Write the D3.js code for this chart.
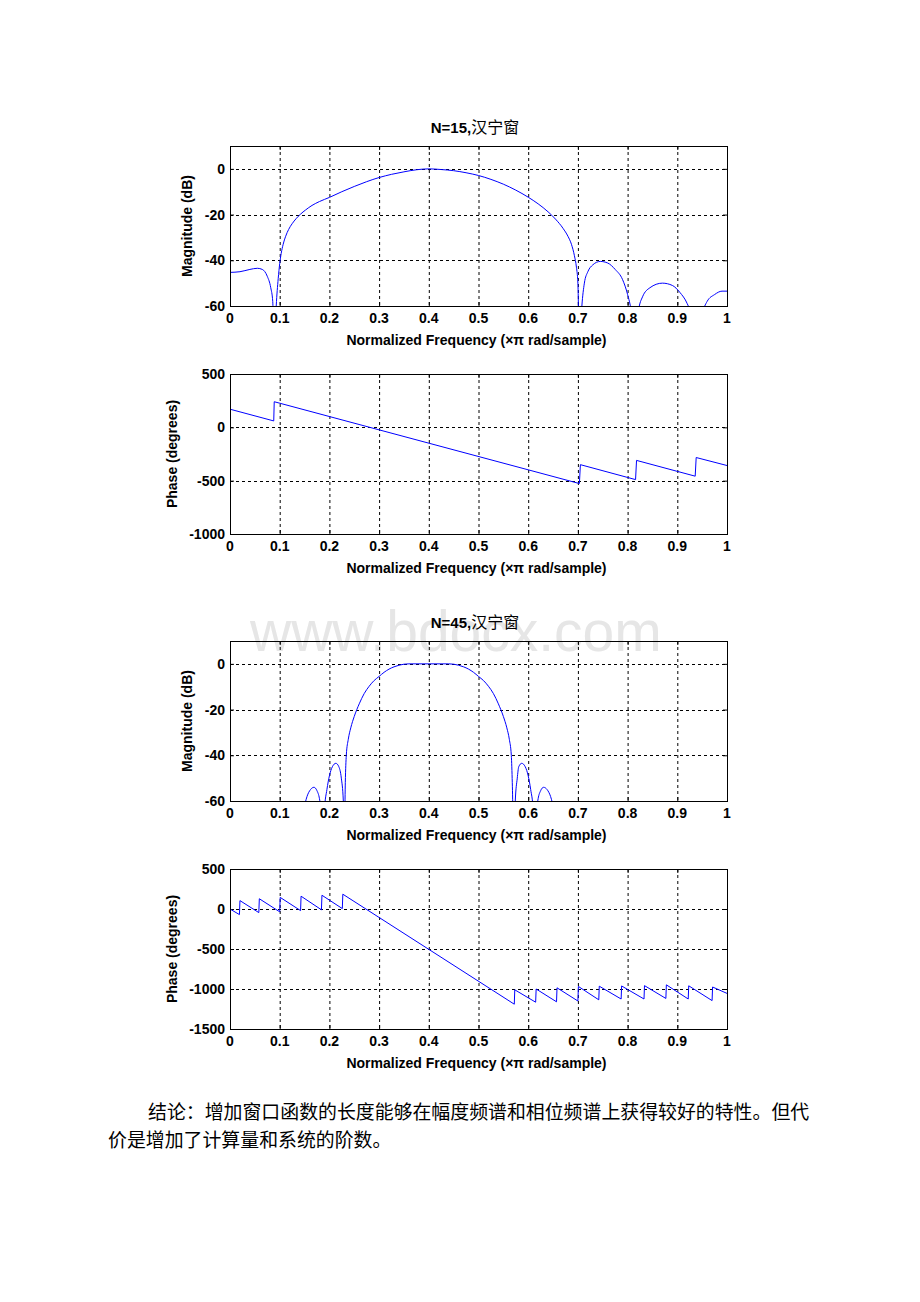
<!DOCTYPE html>
<html>
<head>
<meta charset="utf-8">
<script src="https://cdn.jsdelivr.net/npm/d3@7"></script>
<style>
  html, body { margin: 0; padding: 0; background: #fff; }
  svg { display: block; }
</style>
</head>
<body>
<svg id="chart"></svg>
<script>
// x axis ticks (normalized frequency)
const freqTicks = [0, 0.1, 0.2, 0.3, 0.4, 0.5, 0.6, 0.7, 0.8, 0.9, 1];
const freqTickLabels = ["0", "0.1", "0.2", "0.3", "0.4", "0.5", "0.6", "0.7", "0.8", "0.9", "1"];

// y axis ticks
const magTicks = [-60, -40, -20, 0];
const phase15Ticks = [-1000, -500, 0, 500];
const phase45Ticks = [-1500, -1000, -500, 0, 500];

const titles = ["N=15,", "N=45,"];
const windowName = "汉宁窗";

// N=15 magnitude [freq, dB]
const mag15 = [
  [0, -45.3], [0.02, -45.0], [0.04, -44], [0.055, -43.5], [0.065, -44], [0.075, -47],
  [0.082, -52], [0.086, -58], [0.089, -80], [0.093, -60], [0.097, -48], [0.1, -41.5],
  [0.103, -37], [0.107, -33], [0.112, -29.5], [0.118, -26.5], [0.125, -24], [0.133, -21.8],
  [0.142, -19.8], [0.152, -18], [0.165, -16], [0.18, -14.3], [0.2, -12.5], [0.225, -10],
  [0.25, -7.7], [0.275, -5.6], [0.3, -3.8], [0.325, -2.4], [0.35, -1.3], [0.375, -0.4],
  [0.4, 0], [0.425, -0.3], [0.45, -0.8], [0.475, -1.7], [0.5, -2.9], [0.525, -4.6],
  [0.55, -6.7], [0.575, -9.3], [0.6, -12.4], [0.62, -15.3], [0.64, -18.8], [0.655, -22],
  [0.67, -26], [0.68, -29.5], [0.687, -33], [0.693, -38], [0.697, -43], [0.7, -50],
  [0.703, -80], [0.708, -60], [0.713, -50], [0.72, -45], [0.73, -42],
  [0.745, -40.5], [0.76, -41.2], [0.775, -44], [0.79, -48.5], [0.8, -55], [0.807, -62],
  [0.815, -80], [0.822, -62], [0.83, -56], [0.845, -52], [0.87, -50], [0.89, -51],
  [0.905, -54], [0.92, -59], [0.93, -65], [0.94, -80], [0.95, -64], [0.96, -58],
  [0.975, -55], [0.99, -53.5], [1, -53.5]
];

// N=15 phase [freq, degrees]
const phase15 = [
  [0, 170], [0.088, 60], [0.089, 240], [0.703, -527], [0.705, -350], [0.816, -490],
  [0.818, -310], [0.936, -458], [0.938, -283], [1, -358]
];

// N=45 magnitude [freq, dB]
const mag45 = [
  [0.148, -64], [0.155, -58], [0.162, -55], [0.169, -54], [0.175, -55.5], [0.18, -59],
  [0.184, -66], [0.187, -80], [0.19, -64], [0.195, -55], [0.2, -49], [0.206, -45],
  [0.213, -43.5], [0.219, -45], [0.224, -50], [0.228, -60], [0.23, -80], [0.232, -52],
  [0.234, -40], [0.238, -33], [0.243, -28], [0.25, -23], [0.26, -17.5], [0.27, -13],
  [0.28, -9.8], [0.29, -7.3], [0.3, -5.5], [0.31, -3.7], [0.32, -2.3], [0.33, -1.3],
  [0.34, -0.6], [0.35, -0.15], [0.36, 0], [0.44, 0], [0.45, -0.15], [0.46, -0.6],
  [0.47, -1.3], [0.48, -2.3], [0.49, -3.7], [0.5, -5.5], [0.51, -7.3], [0.52, -9.8],
  [0.53, -13], [0.54, -17.5], [0.55, -23], [0.557, -28], [0.562, -33], [0.566, -40],
  [0.568, -52], [0.571, -80], [0.574, -60], [0.578, -50], [0.581, -45], [0.587, -43.5],
  [0.594, -45], [0.6, -49], [0.605, -55], [0.61, -64], [0.613, -80], [0.616, -66],
  [0.62, -59], [0.625, -55.5], [0.631, -54], [0.638, -55], [0.645, -58], [0.652, -64]
];

// N=45 phase [freq, degrees]
const phase45 = [
  [0, 0], [0.019, -70], [0.02, 105], [0.058, -45], [0.059, 128], [0.1, -35],
  [0.101, 145], [0.142, -20], [0.143, 160], [0.184, -10], [0.185, 172], [0.226, 5],
  [0.227, 185], [0.572, -1190], [0.573, -1010], [0.615, -1165], [0.616, -1000],
  [0.657, -1160], [0.658, -985], [0.700, -1150], [0.701, -968], [0.742, -1135],
  [0.743, -965], [0.787, -1125], [0.788, -962], [0.833, -1125], [0.834, -958],
  [0.877, -1118], [0.878, -948], [0.922, -1125], [0.923, -960], [0.970, -1145],
  [0.971, -975], [1, -1055]
];

const conclusion = [
  "结论：增加窗口函数的长度能够在幅度频谱和相位频谱上获得较好的特性。但代",
  "价是增加了计算量和系统的阶数。"
];

const W = 920, H = 1302;
const tickFont = "'Liberation Sans', Arial, sans-serif";
const cjkFont = "'Noto Sans CJK SC', sans-serif";
const fs = 14;

const svg = d3.select("#chart")
  .attr("width", W)
  .attr("height", H)
  .attr("viewBox", `0 0 ${W} ${H}`);

// faint watermark behind the second figure
svg.append("text")
  .attr("x", 250)
  .attr("y", 651)
  .attr("font-family", tickFont)
  .attr("font-size", 57)
  .attr("fill", "#e6e6e6")
  .text("www.bdocx.com");

const x = d3.scaleLinear().domain([0, 1]).range([230, 727]);

function drawPanel(cfg) {
  const y = d3.scaleLinear().domain(cfg.yDomain).range([cfg.bottom, cfg.top]);
  const g = svg.append("g");

  // grid
  g.append("g")
    .selectAll("line")
    .data(freqTicks.slice(1, -1))
    .join("line")
    .attr("x1", d => x(d) + 0.5).attr("x2", d => x(d) + 0.5)
    .attr("y1", cfg.top).attr("y2", cfg.bottom)
    .attr("stroke", "#000")
    .attr("stroke-dasharray", "3,3");
  g.append("g")
    .selectAll("line")
    .data(cfg.yTicks.filter(d => d > cfg.yDomain[0] && d < cfg.yDomain[1]))
    .join("line")
    .attr("x1", x(0)).attr("x2", x(1))
    .attr("y1", d => Math.round(y(d)) + 0.5).attr("y2", d => Math.round(y(d)) + 0.5)
    .attr("stroke", "#000")
    .attr("stroke-dasharray", "3,3");

  // inner ticks on all sides
  const xAxisB = d3.axisBottom(x).tickValues(freqTicks).tickSize(-4).tickFormat("");
  const xAxisT = d3.axisTop(x).tickValues(freqTicks).tickSize(-4).tickFormat("");
  const yAxisL = d3.axisLeft(y).tickValues(cfg.yTicks).tickSize(-4).tickFormat("");
  const yAxisR = d3.axisRight(y).tickValues(cfg.yTicks).tickSize(-4).tickFormat("");
  [[xAxisB, `translate(0,${cfg.bottom})`], [xAxisT, `translate(0,${cfg.top})`],
   [yAxisL, `translate(${x(0)},0)`], [yAxisR, `translate(${x(1)},0)`]].forEach(([ax, tr]) => {
    const a = g.append("g").attr("transform", tr).call(ax);
    a.select(".domain").remove();
    a.selectAll("line").attr("stroke", "#000");
  });

  // data line
  const clipId = "clip" + cfg.id;
  svg.append("clipPath").attr("id", clipId)
    .append("rect")
    .attr("x", x(0)).attr("y", cfg.top)
    .attr("width", x(1) - x(0)).attr("height", cfg.bottom - cfg.top);
  const line = d3.line()
    .x(d => x(d[0]))
    .y(d => y(d[1]))
    .curve(cfg.smooth ? d3.curveMonotoneX : d3.curveLinear);
  g.append("path")
    .datum(cfg.data)
    .attr("clip-path", `url(#${clipId})`)
    .attr("fill", "none")
    .attr("stroke", "#0000ff")
    .attr("stroke-width", 1)
    .attr("d", line);

  // frame
  g.append("rect")
    .attr("x", x(0) + 0.5).attr("y", cfg.top + 0.5)
    .attr("width", x(1) - x(0)).attr("height", cfg.bottom - cfg.top)
    .attr("fill", "none")
    .attr("stroke", "#000");

  // tick labels
  g.append("g")
    .selectAll("text")
    .data(freqTicks)
    .join("text")
    .attr("x", d => x(d))
    .attr("y", cfg.bottom + 17)
    .attr("text-anchor", "middle")
    .attr("font-family", tickFont)
    .attr("font-weight", "bold")
    .attr("font-size", fs)
    .text((d, i) => freqTickLabels[i]);
  g.append("g")
    .selectAll("text")
    .data(cfg.yTicks)
    .join("text")
    .attr("x", 225)
    .attr("y", d => y(d) + 5)
    .attr("text-anchor", "end")
    .attr("font-family", tickFont)
    .attr("font-weight", "bold")
    .attr("font-size", fs)
    .text(d => d);

  // axis labels
  g.append("text")
    .attr("x", (x(0) + x(1)) / 2 - 2)
    .attr("y", cfg.bottom + 39)
    .attr("text-anchor", "middle")
    .attr("font-family", tickFont)
    .attr("font-weight", "bold")
    .attr("font-size", fs)
    .text("Normalized Frequency  (×π rad/sample)");
  g.append("text")
    .attr("transform", `translate(${cfg.ylabelX},${(cfg.top + cfg.bottom) / 2}) rotate(-90)`)
    .attr("text-anchor", "middle")
    .attr("font-family", tickFont)
    .attr("font-weight", "bold")
    .attr("font-size", fs)
    .text(cfg.ylabel);

  if (cfg.title) {
    const t = g.append("text")
      .attr("x", 475)
      .attr("y", cfg.top - 13)
      .attr("text-anchor", "middle");
    t.append("tspan")
      .attr("font-family", tickFont)
      .attr("font-weight", "bold")
      .attr("font-size", 15)
      .text(cfg.title);
    t.append("tspan")
      .attr("font-family", cjkFont)
      .attr("font-size", 16)
      .text(windowName);
  }
}

drawPanel({ id: 1, top: 146, bottom: 306, yDomain: [-60, 10], yTicks: magTicks,
  data: mag15, smooth: true, ylabel: "Magnitude (dB)", ylabelX: 192, title: titles[0] });
drawPanel({ id: 2, top: 374, bottom: 534, yDomain: [-1000, 500], yTicks: phase15Ticks,
  data: phase15, smooth: false, ylabel: "Phase (degrees)", ylabelX: 177 });
drawPanel({ id: 3, top: 641, bottom: 801, yDomain: [-60, 10], yTicks: magTicks,
  data: mag45, smooth: true, ylabel: "Magnitude (dB)", ylabelX: 192, title: titles[1] });
drawPanel({ id: 4, top: 869, bottom: 1029, yDomain: [-1500, 500], yTicks: phase45Ticks,
  data: phase45, smooth: false, ylabel: "Phase (degrees)", ylabelX: 177 });

// conclusion paragraph
svg.append("g")
  .selectAll("text")
  .data(conclusion)
  .join("text")
  .attr("x", (d, i) => i === 0 ? 148 : 108)
  .attr("y", (d, i) => 1119 + i * 28)
  .attr("font-family", cjkFont)
  .attr("font-size", 18.9)
  .attr("fill", "#000")
  .text(d => d);
</script>
</body>
</html>
